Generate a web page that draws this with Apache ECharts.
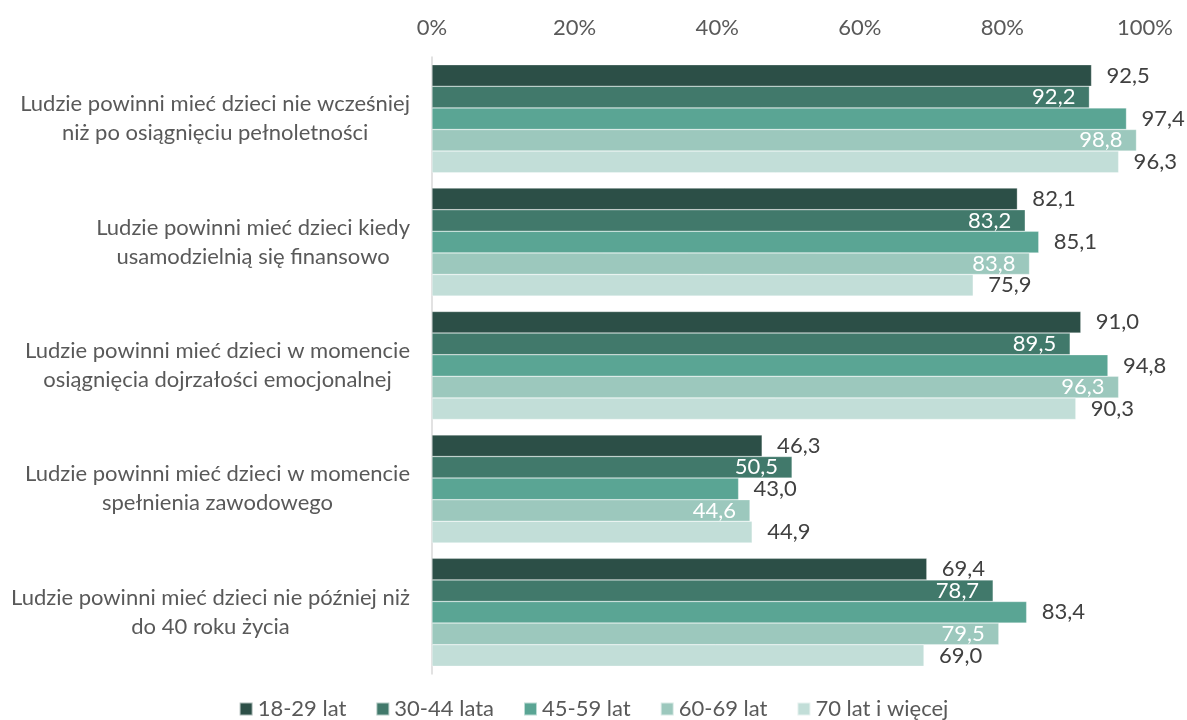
<!DOCTYPE html>
<html>
<head>
<meta charset="utf-8">
<script src="https://cdn.jsdelivr.net/npm/echarts@6/dist/echarts.min.js"></script>
<style>html,body{margin:0;padding:0;background:#fff}#c{width:1187px;height:720px}</style>
</head>
<body>
<div id="c"></div>
<script>
var categories = [
  "Ludzie powinni mieć dzieci nie wcześniej\nniż po osiągnięciu pełnoletności",
  "Ludzie powinni mieć dzieci kiedy\nusamodzielnią się finansowo",
  "Ludzie powinni mieć dzieci w momencie\nosiągnięcia dojrzałości emocjonalnej",
  "Ludzie powinni mieć dzieci w momencie\nspełnienia zawodowego",
  "Ludzie powinni mieć dzieci nie później niż\ndo 40 roku życia"
];
var seriesNames = ["18-29 lat", "30-44 lata", "45-59 lat", "60-69 lat", "70 lat i więcej"];
var s1829 = [92.5, 82.1, 91.0, 46.3, 69.4];
var s3044 = [92.2, 83.2, 89.5, 50.5, 78.7];
var s4559 = [97.4, 85.1, 94.8, 43.0, 83.4];
var s6069 = [98.8, 83.8, 96.3, 44.6, 79.5];
var s70 = [96.3, 75.9, 90.3, 44.9, 69.0];
var xTicks = [0, 20, 40, 60, 80, 100];

var colors = ["#2C4F47", "#41796B", "#5AA594", "#9CC8BD", "#C2DED8"];
var values = [s1829, s3044, s4559, s6069, s70];
var inside = [false, true, false, true, false];
var font = "Lato, 'Open Sans', sans-serif";

function fmt(p) { return p.value.toFixed(1).replace('.', ','); }

var series = values.map(function (v, i) {
  return {
    name: seriesNames[i],
    type: 'bar',
    data: v,
    barGap: '0%',
    barCategoryGap: '12.5%',
    itemStyle: { color: colors[i], borderColor: 'rgba(255,255,255,0.6)', borderWidth: 0.5 },
    label: {
      show: true,
      position: inside[i] ? 'insideRight' : 'right',
      distance: inside[i] ? 14 : 15,
      color: inside[i] ? '#ffffff' : '#404040',
      fontSize: 22,
      fontFamily: font,
      formatter: fmt
    },
    emphasis: { disabled: true }
  };
});

var chart = echarts.init(document.getElementById('c'));
chart.setOption({
  animation: false,
  color: colors,
  grid: { left: 432, right: 42, top: 57, bottom: 46, containLabel: false },
  legend: {
    data: seriesNames,
    bottom: -5,
    left: 'center',
    icon: 'rect',
    itemWidth: 13,
    itemHeight: 13,
    itemGap: 29,
    textStyle: { fontSize: 22, color: '#595959', fontFamily: font }
  },
  xAxis: {
    type: 'value',
    position: 'top',
    min: xTicks[0],
    max: xTicks[xTicks.length - 1],
    interval: xTicks[1] - xTicks[0],
    axisLine: { show: false },
    axisTick: { show: false },
    splitLine: { show: false },
    axisLabel: { formatter: '{value}%', fontSize: 22, color: '#595959', fontFamily: font, margin: 18 }
  },
  yAxis: {
    type: 'category',
    inverse: true,
    data: categories,
    axisLine: { show: true, lineStyle: { color: '#D9D9D9', width: 1.5 } },
    axisTick: { show: false },
    axisLabel: {
      margin: 22,
      align: 'right',
      lineHeight: 29,
      formatter: function (v) {
        return v.split('\n').map(function (l) { return '{c|' + l + '}'; }).join('\n');
      },
      rich: { c: { align: 'center', fontSize: 22, color: '#595959', fontFamily: font, lineHeight: 29 } }
    }
  },
  series: series
});
</script>
</body>
</html>
